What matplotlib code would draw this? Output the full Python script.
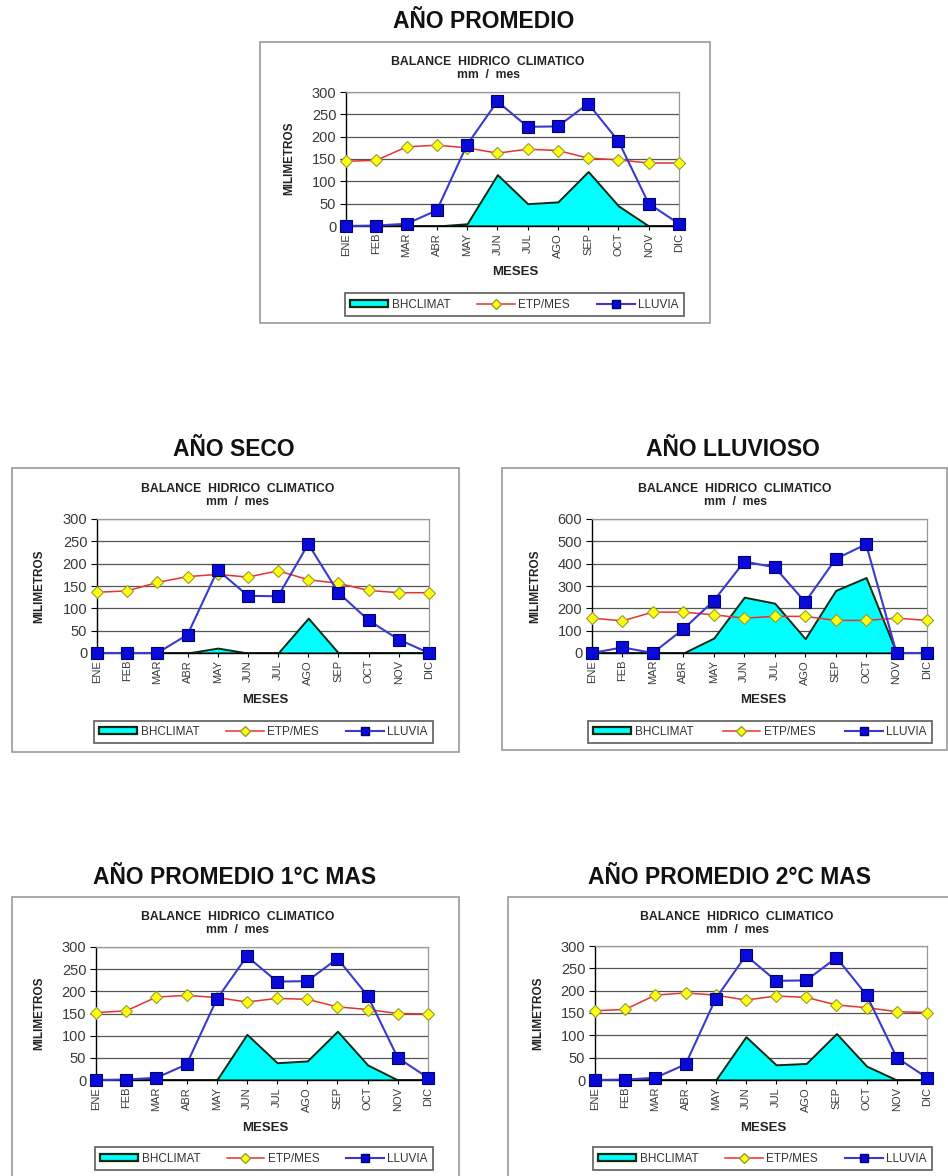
import matplotlib
matplotlib.use("Agg")
import matplotlib.pyplot as plt
from matplotlib.patches import Rectangle, Patch
from matplotlib.lines import Line2D

plt.rcParams['font.family'] = ['Liberation Sans', 'DejaVu Sans']

W, H = 948, 1176

months = ["ENE", "FEB", "MAR", "ABR", "MAY", "JUN", "JUL", "AGO", "SEP", "OCT", "NOV", "DIC"]

# --- Año promedio ---
prom_bh = [0, 0, 0, 0, 5, 115, 50, 54, 122, 45, 0, 0]
prom_etp = [145, 147, 177, 181, 175, 163, 172, 169, 152, 148, 141, 141]
prom_lluvia = [0, 1, 5, 35, 182, 279, 222, 223, 274, 190, 50, 5]

# --- Año seco ---
seco_bh = [0, 0, 0, 0, 11, 0, 0, 78, 0, 0, 0, 0]
seco_etp = [136, 139, 158, 171, 176, 170, 184, 164, 156, 140, 135, 135]
seco_lluvia = [0, 0, 0, 41, 186, 128, 127, 244, 135, 73, 30, 0]

# --- Año lluvioso ---
lluv_bh = [0, 0, 0, 0, 67, 250, 223, 64, 280, 338, 0, 0]
lluv_etp = [156, 144, 183, 183, 171, 156, 164, 164, 146, 146, 156, 146]
lluv_lluvia = [0, 25, 0, 107, 234, 409, 384, 228, 421, 487, 0, 0]

# --- Año promedio 1°C más ---
mas1_bh = [0, 0, 0, 0, 0, 103, 39, 43, 110, 34, 0, 0]
mas1_etp = [152, 156, 187, 191, 186, 176, 184, 182, 165, 159, 150, 149]
mas1_lluvia = [0, 1, 5, 35, 182, 279, 222, 223, 274, 190, 50, 5]

# --- Año promedio 2°C más ---
mas2_bh = [0, 0, 0, 0, 0, 97, 34, 37, 104, 31, 0, 0]
mas2_etp = [155, 158, 190, 195, 190, 179, 188, 185, 168, 162, 153, 151]
mas2_lluvia = [0, 1, 5, 35, 182, 279, 222, 223, 274, 190, 50, 5]

fig = plt.figure(figsize=(W / 100, H / 100), dpi=100)
fig.patch.set_facecolor("white")


def fx(px):
    return px / W


def fy(py):
    return 1 - py / H


def draw_panel(heading, heading_xy, frame, plot, chart_title_xy, ylabel_xy,
               xlabel_xy, legend_box, ymax, ystep, bh, etp, lluvia):
    # outer chart frame
    bx0, by0, bx1, by1 = frame
    fig.add_artist(Rectangle((fx(bx0), fy(by1)), fx(bx1 - bx0), (by1 - by0) / H,
                             transform=fig.transFigure, facecolor="white",
                             edgecolor="#9a9a9a", linewidth=1.2, zorder=0))
    fig.text(fx(heading_xy[0]), fy(heading_xy[1]), heading, ha="center",
             va="center", fontsize=16.5, fontweight="bold", color="#111111")

    x0, ytop, x1, ybot = plot
    ax = fig.add_axes([fx(x0), fy(ybot), fx(x1 - x0), (ybot - ytop) / H])
    x = list(range(len(months)))

    ax.fill_between(x, 0, bh, facecolor="#00FFFF", edgecolor="#0b2a10",
                    linewidth=1.4, zorder=2)
    ax.plot(x, etp, color="#e8322e", linewidth=1.1, marker="D", markersize=6.5,
            markerfacecolor="#ffff10", markeredgecolor="#9a9a30",
            markeredgewidth=0.8, zorder=3, clip_on=False)
    ax.plot(x, lluvia, color="#3a3acc", linewidth=1.5, marker="s", markersize=9,
            markerfacecolor="#0a0ad8", markeredgecolor="#000070",
            markeredgewidth=0.8, zorder=4, clip_on=False)

    ax.set_xlim(0, len(months) - 1)
    ax.set_ylim(0, ymax)
    ax.set_yticks(range(0, ymax + 1, ystep))
    ax.set_xticks(x)
    ax.set_xticklabels(months, rotation=90, fontsize=8, color="#3a3a3a")
    ax.tick_params(axis="y", labelsize=10.5, labelcolor="#3a3a3a", length=4,
                   width=0.8, pad=3)
    ax.tick_params(axis="x", length=3, width=0.8, pad=2)
    ax.grid(axis="y", color="#555555", linewidth=0.9)
    ax.set_axisbelow(True)
    for side in ("top", "right"):
        ax.spines[side].set_color("#999999")
        ax.spines[side].set_linewidth(0.9)
    for side in ("left", "bottom"):
        ax.spines[side].set_color("black")
        ax.spines[side].set_linewidth(1.0)

    fig.text(fx(chart_title_xy[0]), fy(chart_title_xy[1]),
             "BALANCE  HIDRICO  CLIMATICO", ha="center", va="center",
             fontsize=8.8, fontweight="bold", color="#222222")
    fig.text(fx(chart_title_xy[0]), fy(chart_title_xy[1] + 13), "mm  /  mes",
             ha="center", va="center", fontsize=8.8, fontweight="bold",
             color="#222222")
    fig.text(fx(ylabel_xy[0]), fy(ylabel_xy[1]), "MILIMETROS", rotation=90,
             ha="center", va="center", fontsize=8.5, fontweight="bold",
             color="#222222")
    fig.text(fx(xlabel_xy[0]), fy(xlabel_xy[1]), "MESES", ha="center",
             va="center", fontsize=9.5, fontweight="bold", color="#222222")

    lx0, ly0, lx1, ly1 = legend_box
    handles = [
        Patch(facecolor="#00FFFF", edgecolor="#0b2a10", linewidth=1.6),
        Line2D([], [], color="#e8322e", linewidth=1.1, marker="D",
               markersize=5, markerfacecolor="#ffff10",
               markeredgecolor="#9a9a30"),
        Line2D([], [], color="#3a3acc", linewidth=1.5, marker="s",
               markersize=6, markerfacecolor="#0a0ad8",
               markeredgecolor="#000070"),
    ]
    leg = ax.legend(handles, ["BHCLIMAT", "ETP/MES", "LLUVIA"], ncol=3,
                    loc="center", mode="expand",
                    bbox_to_anchor=(fx(lx0), fy(ly1), fx(lx1 - lx0),
                                    (ly1 - ly0) / H),
                    bbox_transform=fig.transFigure, fontsize=8.5,
                    frameon=True, fancybox=False, edgecolor="#444444",
                    handlelength=3.2, handleheight=0.55, handletextpad=0.3,
                    columnspacing=1.2, borderpad=0.45, borderaxespad=0)
    leg.get_frame().set_linewidth(1.3)
    for t in leg.get_texts():
        t.set_color("#333333")
    return ax


draw_panel("AÑO PROMEDIO", (484, 22), (260, 42, 710, 323),
           (346, 92, 679, 226), (488, 62), (289, 158), (515, 272),
           (345, 292, 684, 317), 300, 50, prom_bh, prom_etp, prom_lluvia)

draw_panel("AÑO SECO", (234, 449), (12, 468, 459, 752),
           (97, 519, 429, 653), (238, 489), (39, 586), (265, 700),
           (94, 720, 433, 744), 300, 50, seco_bh, seco_etp, seco_lluvia)

draw_panel("AÑO LLUVIOSO", (733, 449), (502, 468, 947, 750),
           (592, 519, 927, 653), (735, 489), (535, 586), (763, 700),
           (588, 720, 932, 744), 600, 100, lluv_bh, lluv_etp, lluv_lluvia)

draw_panel("AÑO PROMEDIO 1°C MAS", (235, 877), (12, 897, 459, 1190),
           (96, 947, 428, 1080), (238, 917), (39, 1013), (265, 1128),
           (95, 1147, 433, 1170), 300, 50, mas1_bh, mas1_etp, mas1_lluvia)

draw_panel("AÑO PROMEDIO 2°C MAS", (730, 877), (508, 897, 960, 1190),
           (595, 946, 927, 1080), (737, 917), (538, 1013), (763, 1128),
           (593, 1147, 932, 1170), 300, 50, mas2_bh, mas2_etp, mas2_lluvia)

fig.savefig("out.png", dpi=100, facecolor="white")
